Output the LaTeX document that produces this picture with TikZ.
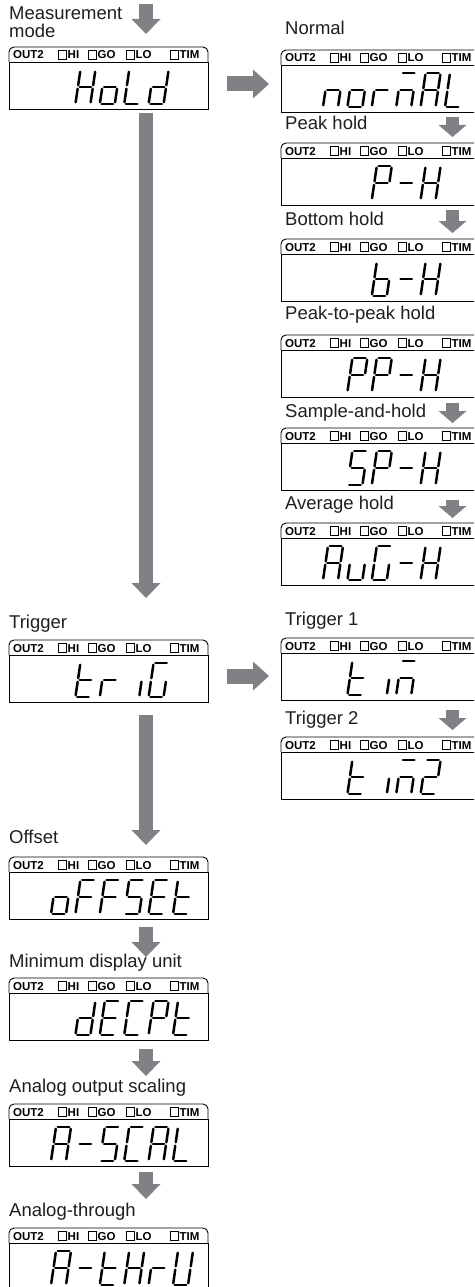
\documentclass[tikz,border=0pt]{standalone}
\usepackage{fontspec}
\setmainfont{Liberation Sans}
\usetikzlibrary{arrows.meta}
\definecolor{arrowgray}{RGB}{128,129,133}
\definecolor{lblcol}{RGB}{30,30,30}

\tikzset{
  seg/.style={line width=2.5pt, line cap=round, shorten >=1.8pt, shorten <=1.8pt},
  boxnode/.style={anchor=north west, minimum width=199pt, minimum height=62pt, inner sep=0pt, outer sep=0pt},
  boxline/.style={line width=0.9pt},
  hdr/.style={anchor=base west, inner sep=0pt, font=\fontsize{11.5}{12}\selectfont\bfseries},
  sq/.style={line width=0.6pt},
  lbl/.style={anchor=base west, inner sep=0pt, text=lblcol, font=\fontsize{18.5}{18}\selectfont},
  bigarrow/.style={draw=arrowgray, line width=14pt, -{Triangle[width=29pt,length=15pt,line width=0pt]}},
  smallarrow/.style={draw=arrowgray, line width=12.5pt, -{Triangle[width=28pt,length=12pt,line width=0pt]}},
  harrow/.style={draw=arrowgray, line width=15pt, -{Triangle[width=29pt,length=16pt,line width=0pt]}}
}

% seven-segment pieces (local coordinates, y upwards)
\newcommand\sgA{\draw[seg] (5,34) -- (20,34);}
\newcommand\sgB{\draw[seg] (20,34) -- (17.5,17);}
\newcommand\sgC{\draw[seg] (17.5,17) -- (15,0);}
\newcommand\sgD{\draw[seg] (0,0) -- (15,0);}
\newcommand\sgE{\draw[seg] (2.5,17) -- (0,0);}
\newcommand\sgF{\draw[seg] (5,34) -- (2.5,17);}
\newcommand\sgG{\draw[seg] (2.5,17) -- (17.5,17);}

\newcommand\glyph[2]{%
  \begin{scope}[shift={({(#1-1)*24.4},0)}]
    \foreach \s in {#2}{\csname sg\s\endcsname}
  \end{scope}}

\newcommand\dispbox[3]{%
  \node[boxnode] (#1) at (#2,#3) {};
  \draw[boxline, rounded corners=5pt] ([yshift=-15pt]#1.north west) -- (#1.north west) -- (#1.north east) -- ([yshift=-15pt]#1.north east);
  \draw[boxline] ([yshift=-15pt]#1.north west) rectangle (#1.south east);
  \node[hdr] (#1-out) at ([xshift=4pt,yshift=-12pt]#1.north west) {OUT2};
  \foreach \sx/\tx/\tn in {49/58.5/HI,79/88.5/GO,117/126.5/LO,161/170.5/TIM}{
    \draw[sq] ([xshift=\sx pt,yshift=-3.7pt]#1.north west) rectangle ++(8.3pt,-8.3pt);
    \node[hdr] (#1-\tn) at ([xshift=\tx pt,yshift=-12pt]#1.north west) {\tn};}
}

\newcommand\readout[2]{%
  \begin{scope}[shift={([xshift=42pt,yshift=5pt]#1.south west)}, yscale=-1]
    #2
  \end{scope}}

\begin{document}
\begin{tikzpicture}[x=1pt, y=-1pt]
\path[use as bounding box] (0,0) rectangle (474,1287);
\clip (0,0) rectangle (474,1287);

% ---------- displays, left column
\dispbox{hold}{9}{47}
\dispbox{trig}{9}{640}
\dispbox{offset}{9}{857}
\dispbox{decpt}{9}{978}
\dispbox{ascal}{9}{1104}
\dispbox{athru}{9}{1228}
% ---------- displays, right column
\dispbox{normal}{281}{50}
\dispbox{peak}{281}{143}
\dispbox{bottom}{281}{239}
\dispbox{pp}{281}{335}
\dispbox{sp}{281}{428}
\dispbox{avg}{281}{523}
\dispbox{tone}{281}{638}
\dispbox{ttwo}{281}{737}

% ---------- readouts
\readout{hold}{\glyph{2}{B,C,E,F,G}\glyph{3}{C,D,E,G}\glyph{4}{D,E,F}\glyph{5}{B,C,D,E,G}}
\readout{trig}{\glyph{2}{D,E,F,G}\glyph{3}{E,G}\glyph{4}{C}\glyph{5}{A,C,D,E,F}}
\readout{offset}{\glyph{1}{C,D,E,G}\glyph{2}{A,E,F,G}\glyph{3}{A,E,F,G}\glyph{4}{A,C,D,F,G}\glyph{5}{A,D,E,F,G}\glyph{6}{D,E,F,G}}
\readout{decpt}{\glyph{2}{B,C,D,E,G}\glyph{3}{A,D,E,F,G}\glyph{4}{A,D,E,F}\glyph{5}{A,B,E,F,G}\glyph{6}{D,E,F,G}}
\readout{ascal}{\glyph{1}{A,B,C,E,F,G}\glyph{2}{G}\glyph{3}{A,C,D,F,G}\glyph{4}{A,D,E,F}\glyph{5}{A,B,C,E,F,G}\glyph{6}{D,E,F}}
\readout{athru}{\glyph{1}{A,B,C,E,F,G}\glyph{2}{G}\glyph{3}{D,E,F,G}\glyph{4}{B,C,E,F,G}\glyph{5}{E,G}\glyph{6}{B,C,D,E,F}}
\readout{normal}{\glyph{1}{C,E,G}\glyph{2}{C,D,E,G}\glyph{3}{E,G}\glyph{4}{A,C,E,G}\glyph{5}{A,B,C,E,F,G}\glyph{6}{D,E,F}}
\readout{peak}{\glyph{3}{A,B,E,F,G}\glyph{4}{G}\glyph{5}{B,C,E,F,G}}
\readout{bottom}{\glyph{3}{C,D,E,F,G}\glyph{4}{G}\glyph{5}{B,C,E,F,G}}
\readout{pp}{\glyph{2}{A,B,E,F,G}\glyph{3}{A,B,E,F,G}\glyph{4}{G}\glyph{5}{B,C,E,F,G}}
\readout{sp}{\glyph{2}{A,C,D,F,G}\glyph{3}{A,B,E,F,G}\glyph{4}{G}\glyph{5}{B,C,E,F,G}}
\readout{avg}{\glyph{1}{A,B,C,E,F,G}\glyph{2}{C,D,E}\glyph{3}{A,C,D,E,F}\glyph{4}{G}\glyph{5}{B,C,E,F,G}}
\readout{tone}{\glyph{2}{D,E,F,G}\glyph{3}{C}\glyph{4}{A,C,E,G}}
\readout{ttwo}{\glyph{2}{D,E,F,G}\glyph{3}{C}\glyph{4}{A,C,E,G}\glyph{5}{A,B,D,E,G}}

% ---------- arrows
\coordinate (a0s) at (146,4);     \coordinate (a0e) at (146,34);
\coordinate (a1s) at (146,113);   \coordinate (a1e) at (146,598);
\coordinate (a2s) at (146,715);   \coordinate (a2e) at (146,845);
\coordinate (a3s) at (146,927);   \coordinate (a3e) at (146,957);
\coordinate (a4s) at (146,1049);  \coordinate (a4e) at (146,1076);
\coordinate (a5s) at (146,1172);  \coordinate (a5e) at (146,1199);
\coordinate (h1s) at (227,84);    \coordinate (h1e) at (269,84);
\coordinate (h2s) at (227,676);   \coordinate (h2e) at (269,676);
\coordinate (r1s) at (452.5,117); \coordinate (r1e) at (452.5,137);
\coordinate (r2s) at (452.5,210); \coordinate (r2e) at (452.5,233);
\coordinate (r3s) at (452.5,403); \coordinate (r3e) at (452.5,423);
\coordinate (r4s) at (452.5,500); \coordinate (r4e) at (452.5,518);
\coordinate (r5s) at (452.5,710); \coordinate (r5e) at (452.5,730);
\draw[bigarrow] (a0s) -- (a0e);
\draw[bigarrow] (a1s) -- (a1e);
\draw[bigarrow] (a2s) -- (a2e);
\draw[bigarrow] (a3s) -- (a3e);
\draw[bigarrow] (a4s) -- (a4e);
\draw[bigarrow] (a5s) -- (a5e);
\draw[harrow] (h1s) -- (h1e);
\draw[harrow] (h2s) -- (h2e);
\draw[smallarrow] (r1s) -- (r1e);
\draw[smallarrow] (r2s) -- (r2e);
\draw[smallarrow] (r3s) -- (r3e);
\draw[smallarrow] (r4s) -- (r4e);
\draw[smallarrow] (r5s) -- (r5e);

% ---------- labels
\node[lbl, align=left, anchor=north west] (lhold) at (9,7) {Measurement\\mode};
\node[lbl] (ltrig) at (9,628) {Trigger};
\node[lbl] (loffset) at (9,843) {Offset};
\node[lbl] (ldecpt) at (9,967) {Minimum display unit};
\node[lbl] (lascal) at (9,1092) {Analog output scaling};
\node[lbl] (lathru) at (9,1216) {Analog-through};
\node[lbl] (lnormal) at (285,35) {Normal};
\node[lbl] (lpeak) at (285,129) {Peak hold};
\node[lbl] (lbottom) at (285,225) {Bottom hold};
\node[lbl] (lpp) at (285,319) {Peak-to-peak hold};
\node[lbl] (lsp) at (285,417) {Sample-and-hold};
\node[lbl] (lavg) at (285,509) {Average hold};
\node[lbl] (ltone) at (285,625) {Trigger 1};
\node[lbl] (lttwo) at (285,724) {Trigger 2};
\end{tikzpicture}
\end{document}
